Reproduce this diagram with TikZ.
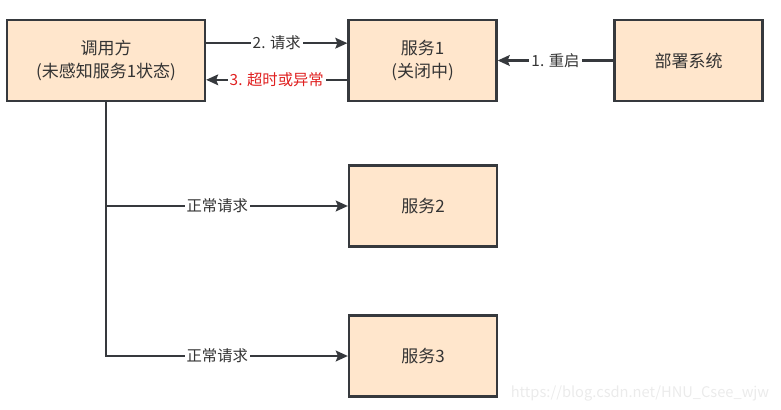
\documentclass[tikz,border=0pt]{standalone}
\usepackage{fontspec}
\setmainfont{Noto Sans CJK SC}
\usetikzlibrary{arrows.meta}
\definecolor{boxfill}{HTML}{FFE6CC}
\definecolor{boxline}{HTML}{36393D}
\definecolor{txt}{HTML}{333333}
\definecolor{errred}{HTML}{E02020}

\begin{document}
\begin{tikzpicture}[x=0.75pt,y=-0.75pt,
		box/.style={draw=boxline, fill=boxfill, line width=1.7pt, minimum width=111pt, minimum height=60.75pt, text=txt, align=center, font=\fontsize{12.75}{17}\selectfont},
		flow/.style={draw=boxline, line width=1.7pt, -{Stealth[length=9pt,width=8pt,inset=1.5pt]}},
		lbl/.style={fill=white, text=txt, inner sep=1.5pt, font=\fontsize{11.5}{14}\selectfont}]
		\useasboundingbox (0,0) rectangle (781,410);
		\node[box, minimum width=148.5pt] (caller) at (106,60.5) {调用方\\(未感知服务1状态)};
		\node[box] (svcA) at (422.5,60.5) {服务1\\(关闭中)};
		\node[box] (deploy) at (688.5,60.5) {部署系统};
		\node[box] (svcB) at (423,206) {服务2};
		\node[box] (svcC) at (423,356) {服务3};
		\draw[flow] ([yshift=13pt]caller.east) -- ([yshift=13pt]svcA.west) node[lbl, midway]{2. 请求};
		\draw[flow] ([yshift=-14.5pt]svcA.west) -- ([yshift=-14.5pt]caller.east) node[lbl, midway, text=errred]{3. 超时或异常};
		\draw[flow] (deploy.west) -- (svcA.east) node[lbl, midway]{1. 重启};
		\draw[flow] (caller.south |- svcB.west) -- (svcB.west) node[lbl, pos=0.46]{正常请求};
		\draw[flow] (caller.south) |- (svcC.west) node[lbl, pos=0.73]{正常请求};
		\node[text=black!8, font=\fontsize{11}{13}\selectfont] (mark) at (640,393) {https://blog.csdn.net/HNU\_Csee\_wjw};
	\end{tikzpicture}
\end{document}
